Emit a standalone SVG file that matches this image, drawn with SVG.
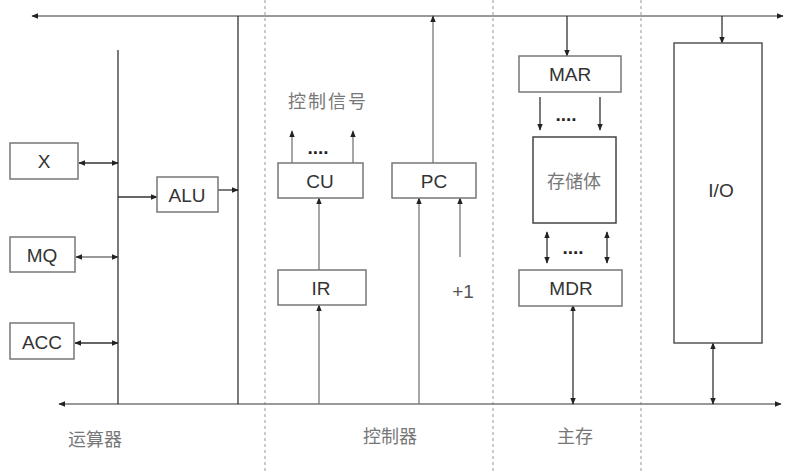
<svg xmlns="http://www.w3.org/2000/svg" width="785" height="473" viewBox="0 0 785 473">
<defs>
<marker id="ah" viewBox="0 0 10 10" refX="9" refY="5" markerWidth="7" markerHeight="7" orient="auto-start-reverse" markerUnits="userSpaceOnUse">
<path d="M0,1 L10,5 L0,9 Z" fill="#222"/>
</marker>
</defs>
<style>
.bx{fill:#fff;stroke:#777;stroke-width:1.5}
.t{font-family:"Liberation Sans",Arial,sans-serif;font-size:19px;fill:#333;text-anchor:middle;dominant-baseline:central}
.c{font-family:"Liberation Serif","Noto Sans CJK SC",serif;font-size:18px;fill:#777;text-anchor:middle;dominant-baseline:central}
.ln{stroke:#333;stroke-width:1.3;fill:none}
.lg{stroke:#777;stroke-width:1.3;fill:none}
.dash{stroke:#aaa;stroke-width:1.2;stroke-dasharray:3,3}
.dots{font-family:"Liberation Sans",Arial,sans-serif;font-size:19px;font-weight:bold;fill:#222;text-anchor:middle}
</style>
<rect width="785" height="473" fill="#fff"/>
<g id="dividers">
<line class="dash" x1="265" y1="0" x2="265" y2="473"/>
<line class="dash" x1="493" y1="0" x2="493" y2="473"/>
<line class="dash" x1="641" y1="0" x2="641" y2="473"/>
</g>
<g id="connectors">
<line class="lg" x1="32" y1="16" x2="783" y2="16" marker-start="url(#ah)" marker-end="url(#ah)"/>
<line class="lg" x1="59" y1="404" x2="781" y2="404" marker-start="url(#ah)" marker-end="url(#ah)"/>
<line class="ln" x1="118" y1="50" x2="118" y2="404"/>
<line class="ln" x1="238" y1="16" x2="238" y2="404"/>
<line class="ln" x1="79" y1="163" x2="118" y2="163" marker-start="url(#ah)" marker-end="url(#ah)"/>
<line class="lg" x1="76" y1="257" x2="118" y2="257" marker-start="url(#ah)" marker-end="url(#ah)"/>
<line class="ln" x1="75" y1="343" x2="118" y2="343" marker-start="url(#ah)" marker-end="url(#ah)"/>
<line class="ln" x1="118" y1="197" x2="157" y2="197" marker-end="url(#ah)"/>
<line class="ln" x1="218" y1="190" x2="238" y2="190" marker-end="url(#ah)"/>
<line class="lg" x1="292" y1="163" x2="292" y2="131" marker-end="url(#ah)"/>
<line class="lg" x1="353" y1="163" x2="353" y2="131" marker-end="url(#ah)"/>
<line class="lg" x1="319" y1="270" x2="319" y2="198" marker-end="url(#ah)"/>
<line class="lg" x1="319" y1="404" x2="319" y2="305" marker-end="url(#ah)"/>
<line class="lg" x1="433" y1="163" x2="433" y2="16" marker-end="url(#ah)"/>
<line class="lg" x1="419" y1="404" x2="419" y2="198" marker-end="url(#ah)"/>
<line class="lg" x1="460" y1="257" x2="460" y2="198" marker-end="url(#ah)"/>
<line class="ln" x1="567" y1="16" x2="567" y2="56" marker-end="url(#ah)"/>
<line class="ln" x1="540" y1="97" x2="540" y2="130" marker-end="url(#ah)"/>
<line class="ln" x1="600" y1="97" x2="600" y2="130" marker-end="url(#ah)"/>
<line class="ln" x1="547" y1="232" x2="547" y2="263" marker-start="url(#ah)" marker-end="url(#ah)"/>
<line class="ln" x1="607" y1="232" x2="607" y2="263" marker-start="url(#ah)" marker-end="url(#ah)"/>
<line class="ln" x1="573" y1="305" x2="573" y2="404" marker-start="url(#ah)" marker-end="url(#ah)"/>
<line class="ln" x1="722" y1="16" x2="722" y2="43" marker-end="url(#ah)"/>
<line class="ln" x1="713" y1="343" x2="713" y2="404" marker-start="url(#ah)" marker-end="url(#ah)"/>
</g>
<g id="X"><rect class="bx" x="10" y="143" width="68" height="36"/><text class="t" x="44" y="161">X</text></g>
<g id="MQ"><rect class="bx" x="10" y="237" width="65" height="35"/><text class="t" x="42" y="255">MQ</text></g>
<g id="ACC"><rect class="bx" x="10" y="323" width="64" height="36"/><text class="t" x="42" y="342">ACC</text></g>
<g id="ALU"><rect class="bx" x="157" y="177" width="61" height="35"/><text class="t" x="187" y="195">ALU</text></g>
<g id="CU"><rect class="bx" x="278" y="163" width="85" height="35"/><text class="t" x="320" y="181">CU</text></g>
<g id="IR"><rect class="bx" x="278" y="270" width="88" height="35"/><text class="t" x="321" y="288">IR</text></g>
<g id="PC"><rect class="bx" x="392" y="163" width="84" height="35"/><text class="t" x="434" y="181">PC</text></g>
<g id="MAR"><rect class="bx" x="519" y="56" width="102" height="36"/><text class="t" x="570" y="74">MAR</text></g>
<g id="memory"><rect class="bx" x="533" y="137" width="83" height="86" style="stroke:#444"/><text class="c" x="574" y="182">存储体</text></g>
<g id="MDR"><rect class="bx" x="519" y="270" width="103" height="36"/><text class="t" x="571" y="288">MDR</text></g>
<g id="IO"><rect class="bx" x="674" y="43" width="88" height="300" style="stroke:#555"/><text class="t" x="721" y="190">I/O</text></g>
<g id="labels">
<text class="c" x="328" y="102" style="letter-spacing:2px">控制信号</text>
<text class="dots" x="318" y="154">....</text>
<text class="dots" x="566" y="121">....</text>
<text class="dots" x="573" y="254">....</text>
<text class="t" x="463" y="291" style="fill:#555">+1</text>
<text class="c" x="95" y="440">运算器</text>
<text class="c" x="390" y="437">控制器</text>
<text class="c" x="575" y="437">主存</text>
</g>
</svg>
